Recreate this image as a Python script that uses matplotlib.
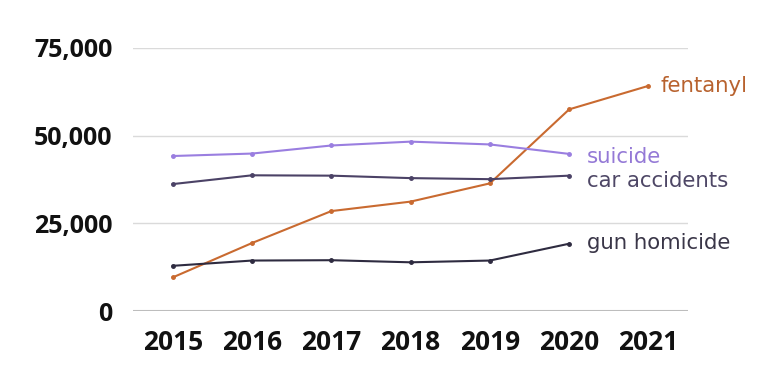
import matplotlib
matplotlib.use('Agg')
import matplotlib.pyplot as plt
from matplotlib.ticker import FuncFormatter

# values
years = [2015, 2016, 2017, 2018, 2019, 2020, 2021]
fentanyl = [9600, 19400, 28500, 31200, 36400, 57500, 64200]
suicide = [44200, 44900, 47200, 48300, 47500, 44800]
car_accidents = [36200, 38700, 38600, 37900, 37600, 38600]
gun_homicide = [12900, 14400, 14500, 13900, 14400, 19200]
yticks = [0, 25000, 50000, 75000]

fig = plt.figure(figsize=(7.74, 3.69), dpi=100)
ax = fig.add_axes([0.172, 0.157, 0.717, 0.713])

series = [
    (fentanyl, "fentanyl", "#c96a30", "#b8622e", (2021.15, 64300)),
    (suicide, "suicide", "#9a7ee0", "#9479d6", (2020.22, 44000)),
    (car_accidents, "car accidents", "#4b4266", "#4e4766", (2020.22, 37200)),
    (gun_homicide, "gun homicide", "#2e2b40", "#3a3648", (2020.22, 19500)),
]
for vals, name, c, tc, pos in series:
    ax.plot(years[:len(vals)], vals, color=c, lw=1.5, marker='o', ms=2.5, zorder=3)
    ax.text(pos[0], pos[1], name, color=tc, fontsize=15.3, family='DejaVu Sans',
            va='center', ha='left')

ax.set_xlim(2014.5, 2021.5)
ax.set_ylim(0, 75000)
ax.set_yticks(yticks)
ax.set_xticks(years)
ax.yaxis.set_major_formatter(FuncFormatter(lambda v, p: f"{int(v):,}"))
for s in ax.spines.values():
    s.set_visible(False)
ax.grid(axis='y', color='#dadada', lw=1)
ax.axhline(0, color='#bdbdbd', lw=1.5, zorder=1)
ax.set_axisbelow(True)
ax.tick_params(length=0)
ax.tick_params(axis='y', pad=15)
ax.tick_params(axis='x', pad=13)
for lab in ax.get_yticklabels():
    lab.set_fontsize(18)
for lab in ax.get_xticklabels():
    lab.set_fontsize(19)
for lab in ax.get_xticklabels() + ax.get_yticklabels():
    lab.set_fontfamily('Open Sans')
    lab.set_fontweight('bold')
    lab.set_color('#111111')

fig.savefig("out.png", dpi=100)
